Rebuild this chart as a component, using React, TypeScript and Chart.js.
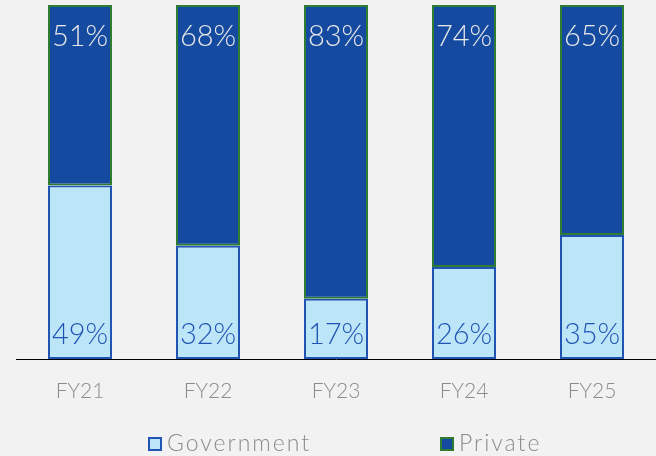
import React, { useEffect, useRef } from "react";
import { Chart, registerables } from "chart.js";

Chart.register(...registerables);

const categories = ["FY21", "FY22", "FY23", "FY24", "FY25"];
const governmentValues = [49, 32, 17, 26, 35];
const privateValues = [51, 68, 83, 74, 65];
const seriesNames = ["Government", "Private"];

const FONT = "Lato, 'Open Sans', sans-serif";
const GOV_FILL = "#BDE5F8";
const GOV_BORDER = "#2155B5";
const PRI_FILL = "#154AA1";
const PRI_BORDER = "#2E7D32";
const GRAY = "#8C8C8C";

const labelPlugin = {
  id: "barLabels",
  afterDatasetsDraw(chart: any) {
    const ctx = chart.ctx;
    ctx.save();
    ctx.font = `300 29px ${FONT}`;
    ctx.textAlign = "center";
    ctx.textBaseline = "middle";
    chart.data.datasets.forEach((ds: any, di: number) => {
      const meta = chart.getDatasetMeta(di);
      meta.data.forEach((bar: any, i: number) => {
        const v = ds.data[i];
        if (di === 0) {
          ctx.fillStyle = GOV_BORDER;
          ctx.fillText(v + "%", bar.x, bar.base - 24);
        } else {
          ctx.fillStyle = "#E8E8E8";
          ctx.fillText(v + "%", bar.x, bar.y + 32);
        }
      });
    });
    ctx.restore();
  },
};

const legendPlugin = {
  id: "customLegend",
  afterDraw(chart: any) {
    const ctx = chart.ctx;
    ctx.save();
    ctx.font = `300 23px ${FONT}`;
    ctx.textBaseline = "middle";
    ctx.textAlign = "left";
    try {
      (ctx as any).letterSpacing = "2px";
    } catch (e) {}
    const items = [
      { x: 148, fill: GOV_FILL, border: GOV_BORDER, text: seriesNames[0] },
      { x: 440, fill: PRI_FILL, border: PRI_BORDER, text: seriesNames[1] },
    ];
    const cy = 444;
    items.forEach((it) => {
      ctx.fillStyle = it.fill;
      ctx.fillRect(it.x, cy - 7, 14, 14);
      ctx.strokeStyle = it.border;
      ctx.lineWidth = 2;
      ctx.strokeRect(it.x + 1, cy - 6, 12, 12);
      ctx.fillStyle = GRAY;
      ctx.fillText(it.text, it.x + 19, cy);
    });
    ctx.restore();
  },
};

export default function App() {
  const ref = useRef<HTMLCanvasElement>(null);
  useEffect(() => {
    if (!ref.current) return;
    const chart = new Chart(ref.current, {
      type: "bar",
      data: {
        labels: categories,
        datasets: [
          {
            label: seriesNames[0],
            data: governmentValues,
            backgroundColor: GOV_FILL,
            borderColor: GOV_BORDER,
            borderWidth: 2,
            borderSkipped: false,
            barPercentage: 0.5,
            categoryPercentage: 1,
          },
          {
            label: seriesNames[1],
            data: privateValues,
            backgroundColor: PRI_FILL,
            borderColor: PRI_BORDER,
            borderWidth: 2,
            borderSkipped: false,
            barPercentage: 0.5,
            categoryPercentage: 1,
          },
        ],
      },
      options: {
        responsive: false,
        animation: false,
        layout: { padding: { left: 16, right: 0, top: 5, bottom: 47 } },
        plugins: { legend: { display: false }, tooltip: { enabled: false } },
        scales: {
          x: {
            stacked: true,
            grid: { display: false, drawTicks: false },
            border: { display: true, color: "#000000", width: 1 },
            ticks: { color: GRAY, font: { family: FONT, size: 21, weight: "300" }, padding: 20 },
            afterFit: (s: any) => {
              s.height = 50;
            },
          },
          y: { stacked: true, display: false, min: 0, max: 100 },
        },
      },
      plugins: [labelPlugin, legendPlugin],
    });
    return () => chart.destroy();
  }, []);
  return (
    <div style={{ position: "fixed", left: 0, top: 0, width: 656, height: 456, background: "#F2F2F2" }}>
      <canvas ref={ref} width={656} height={456} />
    </div>
  );
}
